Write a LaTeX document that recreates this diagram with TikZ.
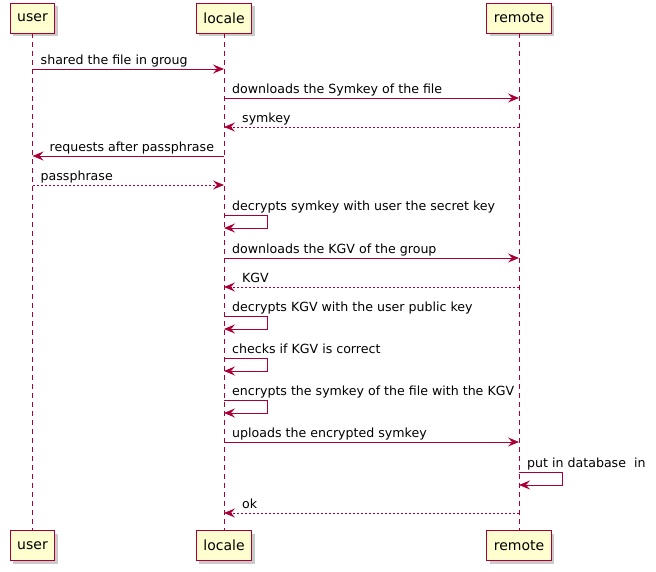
\documentclass[tikz,border=0pt]{standalone}
\usepackage{fontspec}
\setmainfont{DejaVu Sans}
\usetikzlibrary{arrows.meta,shadows}
\definecolor{umlred}{HTML}{A80036}
\definecolor{umlfill}{HTML}{FEFECE}
\tikzset{
  actor/.style={draw=umlred, thick, fill=umlfill, minimum height=30pt, inner xsep=7pt,
    font=\fontsize{14}{16}\selectfont, drop shadow={shadow xshift=3pt, shadow yshift=-3pt, opacity=0.35, fill=black!60}},
  life/.style={umlred, line width=0.8pt, dash pattern=on 5pt off 4pt},
  msg/.style={umlred, line width=0.9pt, -{Stealth[length=11pt,width=9pt,inset=4pt]}},
  reply/.style={msg, dash pattern=on 2pt off 2pt},
  lbl/.style={font=\fontsize{12.6}{15}\selectfont, inner sep=0pt, anchor=base west}
}
\begin{document}
\begin{tikzpicture}[x=1pt, y=-1pt]
        \useasboundingbox (0,0) rectangle (656,571);
        % participants
        \node[actor] (user) at (32.5,18) {user};
        \node[actor] (locale) at (224,18) {locale};
        \node[actor] (remote) at (519,18) {remote};
        \node[actor] (user2) at (32.5,545.5) {user};
        \node[actor] (locale2) at (224,545.5) {locale};
        \node[actor] (remote2) at (519,545.5) {remote};
        \draw[life] (user) -- (user2);
        \draw[life] (locale) -- (locale2);
        \draw[life] (remote) -- (remote2);
        % message rows
        \coordinate (r1) at (0,69);
        \coordinate (r2) at (0,98);
        \coordinate (r3) at (0,127);
        \coordinate (r4) at (0,156);
        \coordinate (r5) at (0,185);
        \coordinate (r6) at (0,215);
        \coordinate (r7) at (0,258);
        \coordinate (r8) at (0,287);
        \coordinate (r9) at (0,316);
        \coordinate (r10) at (0,358);
        \coordinate (r11) at (0,400);
        \coordinate (r12) at (0,442);
        \coordinate (r13) at (0,472);
        \coordinate (r14) at (0,513);
        \draw[msg] (user |- r1) -- (locale |- r1);
        \node[lbl] at ([xshift=8pt,yshift=5pt]user |- r1) {shared the file in groug};
        \draw[msg] (locale |- r2) -- (remote |- r2);
        \node[lbl] at ([xshift=8pt,yshift=5pt]locale |- r2) {downloads the Symkey of the file};
        \draw[reply] (remote |- r3) -- (locale |- r3);
        \node[lbl] at ([xshift=18pt,yshift=5pt]locale |- r3) {symkey};
        \draw[msg] (locale |- r4) -- (user |- r4);
        \node[lbl] at ([xshift=17pt,yshift=5pt]user |- r4) {requests after passphrase};
        \draw[reply] (user |- r5) -- (locale |- r5);
        \node[lbl] at ([xshift=8pt,yshift=5pt]user |- r5) {passphrase};
        \draw[msg] (locale |- r6) -- ++(43,0) -- ++(0,13) -- ++(-43,0);
        \node[lbl] at ([xshift=8pt,yshift=5pt]locale |- r6) {decrypts symkey with user the secret key};
        \draw[msg] (locale |- r7) -- (remote |- r7);
        \node[lbl] at ([xshift=8pt,yshift=5pt]locale |- r7) {downloads the KGV of the group};
        \draw[reply] (remote |- r8) -- (locale |- r8);
        \node[lbl] at ([xshift=18pt,yshift=5pt]locale |- r8) {KGV};
        \draw[msg] (locale |- r9) -- ++(43,0) -- ++(0,13) -- ++(-43,0);
        \node[lbl] at ([xshift=8pt,yshift=5pt]locale |- r9) {decrypts KGV with the user public key};
        \draw[msg] (locale |- r10) -- ++(43,0) -- ++(0,13) -- ++(-43,0);
        \node[lbl] at ([xshift=8pt,yshift=5pt]locale |- r10) {checks if KGV is correct};
        \draw[msg] (locale |- r11) -- ++(43,0) -- ++(0,13) -- ++(-43,0);
        \node[lbl] at ([xshift=8pt,yshift=5pt]locale |- r11) {encrypts the symkey of the file with the KGV};
        \draw[msg] (locale |- r12) -- (remote |- r12);
        \node[lbl] at ([xshift=8pt,yshift=5pt]locale |- r12) {uploads the encrypted symkey};
        \draw[msg] (remote |- r13) -- ++(43,0) -- ++(0,13) -- ++(-43,0);
        \node[lbl] at ([xshift=8pt,yshift=5pt]remote |- r13) {put in database~ in};
        \draw[reply] (remote |- r14) -- (locale |- r14);
        \node[lbl] at ([xshift=18pt,yshift=5pt]locale |- r14) {ok};
    \end{tikzpicture}
\end{document}
